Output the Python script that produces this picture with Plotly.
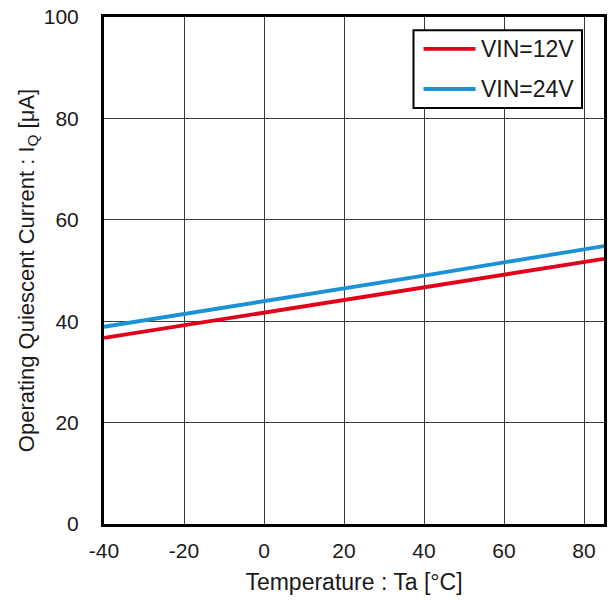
import plotly.graph_objects as go

# Operating quiescent current vs ambient temperature
temperature = [-40, -20, 0, 20, 40, 60, 85]
iq_vin12 = [36.7, 39.2, 41.7, 44.2, 46.7, 49.2, 52.3]
iq_vin24 = [38.9, 41.4, 44.0, 46.5, 49.0, 51.6, 54.8]
series_names = ["VIN=12V", "VIN=24V"]
series_colors = ["#E2001A", "#1A92D4"]
x_ticks = [-40, -20, 0, 20, 40, 60, 80]
x_ticktext = ["-40", "-20", "0", "20", "40", "60", "80"]
y_ticks = [0, 20, 40, 60, 80, 100]

FONT = "Liberation Sans, Arial, sans-serif"
TEXT = "#1a1a1a"

fig = go.Figure()
for name, ys, col in zip(series_names, [iq_vin12, iq_vin24], series_colors):
    fig.add_trace(go.Scatter(x=temperature, y=ys, mode="lines", name=name,
                             showlegend=False, line=dict(color=col, width=3.8)))

axis_common = dict(showline=True, linecolor="black", linewidth=3, mirror=True,
                   showgrid=True, gridcolor="#3a3a3a", gridwidth=1, zeroline=False,
                   automargin=False,
                   ticks="", tickfont=dict(size=21, color=TEXT, family=FONT))

fig.update_xaxes(range=[-40, 85], tickvals=x_ticks, ticktext=x_ticktext, ticklabelstandoff=6,
                 title=dict(text="Temperature : Ta [°C]", font=dict(size=23, color=TEXT, family=FONT), standoff=13),
                 **axis_common)
fig.update_yaxes(range=[0, 100], tickvals=y_ticks, ticklabelstandoff=18,
                 title=dict(text="Operating Quiescent Current : I<sub>Q</sub> [μA]",
                            font=dict(size=22, color=TEXT, family=FONT), standoff=4),
                 **axis_common)

# Boxed legend in the upper right of the plot area
box = dict(x0=0.619, x1=0.956, y0=0.8205, y1=0.974)
fig.add_shape(type="rect", xref="paper", yref="paper", fillcolor="white",
              line=dict(color="black", width=2), layer="above", **box)
legend_rows = [0.937, 0.858]
for name, col, ly in zip(series_names, series_colors, legend_rows):
    fig.add_shape(type="line", xref="paper", yref="paper", x0=0.639, x1=0.743, y0=ly, y1=ly,
                  line=dict(color=col, width=3.8), layer="above")
    fig.add_annotation(xref="paper", yref="paper", x=0.749, y=ly, xanchor="left", yanchor="middle",
                       text=name, showarrow=False, font=dict(size=23, color=TEXT, family=FONT))

fig.update_layout(
    width=614, height=605,
    margin=dict(l=104, r=10, t=17, b=81),
    paper_bgcolor="white", plot_bgcolor="white",
    font=dict(family=FONT),
    showlegend=False,
)

fig.write_html("out.html")
